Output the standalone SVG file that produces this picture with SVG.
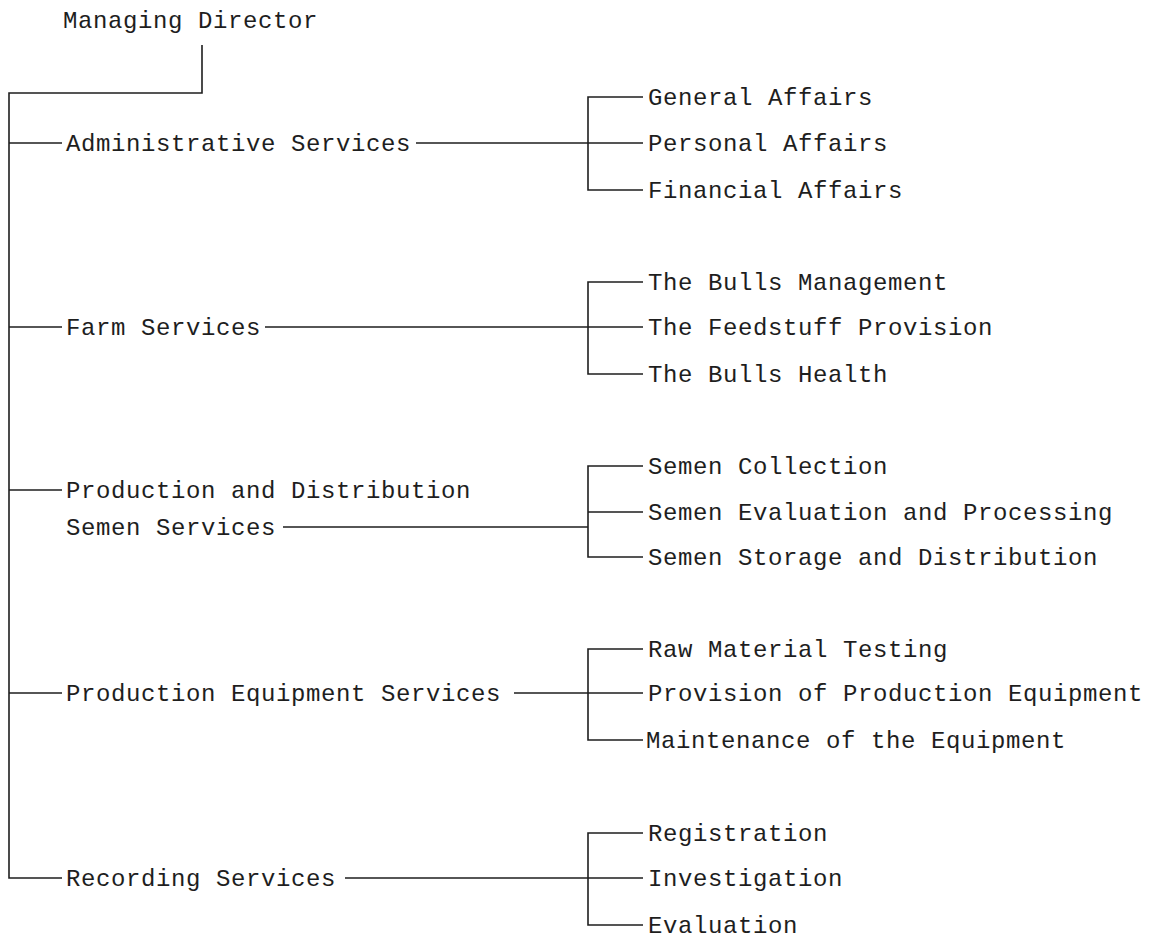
<svg xmlns="http://www.w3.org/2000/svg" width="1160" height="940" viewBox="0 0 1160 940">
<style>
text{font-family:"Liberation Mono","DejaVu Sans Mono",monospace;font-size:24px;letter-spacing:0.6px;fill:#1e1e1e}
.c path,.c line{stroke:#1e1e1e;stroke-width:1.6;fill:none}
.main{stroke-width:2.2}
</style>
<rect width="1160" height="940" fill="#fff"/>
<g class="c" id="connectors">
<path d="M202 45 V93 H9 V878 H62" class="main"/>
<line x1="9" y1="143" x2="62" y2="143"/>
<line x1="9" y1="327" x2="62" y2="327"/>
<line x1="9" y1="490" x2="62" y2="490"/>
<line x1="9" y1="693" x2="62" y2="693"/>
<line x1="416" y1="143" x2="588" y2="143"/>
<line x1="265" y1="327" x2="588" y2="327"/>
<line x1="283" y1="527" x2="588" y2="527"/>
<line x1="514" y1="693" x2="588" y2="693"/>
<line x1="345" y1="878" x2="588" y2="878"/>
<path d="M643 97 H588 V190 H643 M588 143 H643"/>
<path d="M643 282 H588 V374 H643 M588 327 H643"/>
<path d="M643 466 H588 V557 H643 M588 512 H643"/>
<path d="M643 649 H588 V740 H643 M588 693 H643"/>
<path d="M643 833 H588 V925 H643 M588 878 H643"/>
</g>
<g id="managing-director"><text x="63" y="28">Managing Director</text></g>
<g id="administrative-services"><text x="66" y="151">Administrative Services</text></g>
<g id="general-affairs"><text x="648" y="105">General Affairs</text></g>
<g id="personal-affairs"><text x="648" y="151">Personal Affairs</text></g>
<g id="financial-affairs"><text x="648" y="198">Financial Affairs</text></g>
<g id="farm-services"><text x="66" y="335">Farm Services</text></g>
<g id="bulls-management"><text x="648" y="290">The Bulls Management</text></g>
<g id="feedstuff-provision"><text x="648" y="335">The Feedstuff Provision</text></g>
<g id="bulls-health"><text x="648" y="382">The Bulls Health</text></g>
<g id="production-distribution"><text x="66" y="498">Production and Distribution</text><text x="66" y="535">Semen Services</text></g>
<g id="semen-collection"><text x="648" y="474">Semen Collection</text></g>
<g id="semen-evaluation"><text x="648" y="520">Semen Evaluation and Processing</text></g>
<g id="semen-storage"><text x="648" y="565">Semen Storage and Distribution</text></g>
<g id="production-equipment"><text x="66" y="701">Production Equipment Services</text></g>
<g id="raw-material"><text x="648" y="657">Raw Material Testing</text></g>
<g id="provision-equipment"><text x="648" y="701">Provision of Production Equipment</text></g>
<g id="maintenance"><text x="646" y="748">Maintenance of the Equipment</text></g>
<g id="recording-services"><text x="66" y="886">Recording Services</text></g>
<g id="registration"><text x="648" y="841">Registration</text></g>
<g id="investigation"><text x="648" y="886">Investigation</text></g>
<g id="evaluation"><text x="648" y="933">Evaluation</text></g>
</svg>
